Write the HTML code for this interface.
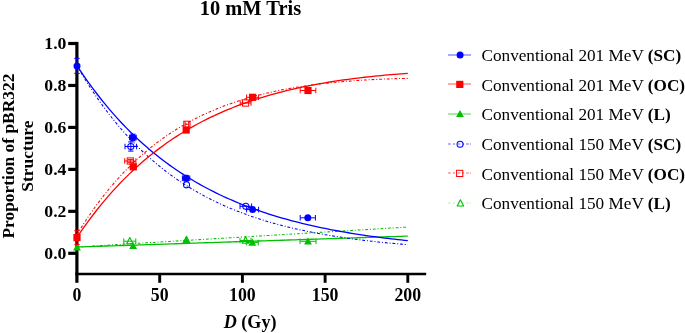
<!DOCTYPE html>
<html><head><meta charset="utf-8"><title>10 mM Tris</title>
<style>
html,body{margin:0;padding:0;background:#fff;}
svg{display:block;}
text{font-family:"Liberation Serif","Times New Roman",serif;fill:#000;}
.b{font-weight:bold;}
</style></head><body>
<svg width="685" height="333" viewBox="0 0 685 333">
<rect width="685" height="333" fill="#fff"/>

<text class="b" x="250.4" y="15.1" font-size="20.45" text-anchor="middle">10 mM Tris</text>
<text class="b" font-size="17.4" text-anchor="middle" transform="translate(14.2,156.1) rotate(-90)">Proportion of pBR322</text>
<text class="b" font-size="17.4" text-anchor="middle" transform="translate(32.6,156.1) rotate(-90)">Structure</text>
<text class="b" font-size="18.1" text-anchor="middle" x="250.1" y="327.5"><tspan font-style="italic">D</tspan> (Gy)</text>
<g stroke="#000" fill="none">
<path stroke-width="3.2" d="M76.9 41.9V282.8"/>
<path stroke-width="2.65" d="M75.3 274H426.2"/>
<path stroke-width="3.2" d="M68.2 253.30H77"/>
<path stroke-width="3.2" d="M68.2 211.34H77"/>
<path stroke-width="3.2" d="M68.2 169.38H77"/>
<path stroke-width="3.2" d="M68.2 127.42H77"/>
<path stroke-width="3.2" d="M68.2 85.46H77"/>
<path stroke-width="3.2" d="M68.2 43.50H77"/>
<path stroke-width="2.9" d="M159.70 274V282.8"/>
<path stroke-width="2.9" d="M242.40 274V282.8"/>
<path stroke-width="2.9" d="M325.10 274V282.8"/>
<path stroke-width="2.9" d="M407.80 274V282.8"/>
</g>
<text class="b" font-size="17.7" text-anchor="end" x="66.4" y="259.2">0.0</text>
<text class="b" font-size="17.7" text-anchor="end" x="66.4" y="217.2">0.2</text>
<text class="b" font-size="17.7" text-anchor="end" x="66.4" y="175.3">0.4</text>
<text class="b" font-size="17.7" text-anchor="end" x="66.4" y="133.3">0.6</text>
<text class="b" font-size="17.7" text-anchor="end" x="66.4" y="91.4">0.8</text>
<text class="b" font-size="17.7" text-anchor="end" x="66.4" y="49.4">1.0</text>
<text class="b" font-size="17.8" text-anchor="middle" x="77.0" y="300.8">0</text>
<text class="b" font-size="17.8" text-anchor="middle" x="159.7" y="300.8">50</text>
<text class="b" font-size="17.8" text-anchor="middle" x="242.4" y="300.8">100</text>
<text class="b" font-size="17.8" text-anchor="middle" x="325.1" y="300.8">150</text>
<text class="b" font-size="17.8" text-anchor="middle" x="407.8" y="300.8">200</text>
<polyline fill="none" stroke="#00c000" stroke-width="1.3" points="77.00,247.01 80.31,246.90 83.62,246.79 86.92,246.68 90.23,246.57 93.54,246.46 96.85,246.35 100.16,246.24 103.46,246.13 106.77,246.02 110.08,245.92 113.39,245.81 116.70,245.70 120.00,245.59 123.31,245.48 126.62,245.37 129.93,245.26 133.24,245.15 136.54,245.04 139.85,244.93 143.16,244.82 146.47,244.71 149.78,244.61 153.08,244.50 156.39,244.39 159.70,244.28 163.01,244.17 166.32,244.06 169.62,243.95 172.93,243.84 176.24,243.73 179.55,243.62 182.86,243.51 186.16,243.41 189.47,243.30 192.78,243.19 196.09,243.08 199.40,242.97 202.70,242.86 206.01,242.75 209.32,242.64 212.63,242.53 215.94,242.42 219.24,242.31 222.55,242.21 225.86,242.10 229.17,241.99 232.48,241.88 235.78,241.77 239.09,241.66 242.40,241.55 245.71,241.44 249.02,241.33 252.32,241.22 255.63,241.11 258.94,241.01 262.25,240.90 265.56,240.79 268.86,240.68 272.17,240.57 275.48,240.46 278.79,240.35 282.10,240.24 285.40,240.13 288.71,240.02 292.02,239.91 295.33,239.81 298.64,239.70 301.94,239.59 305.25,239.48 308.56,239.37 311.87,239.26 315.18,239.15 318.48,239.04 321.79,238.93 325.10,238.82 328.41,238.71 331.72,238.61 335.02,238.50 338.33,238.39 341.64,238.28 344.95,238.17 348.26,238.06 351.56,237.95 354.87,237.84 358.18,237.73 361.49,237.62 364.80,237.51 368.10,237.41 371.41,237.30 374.72,237.19 378.03,237.08 381.34,236.97 384.64,236.86 387.95,236.75 391.26,236.64 394.57,236.53 397.88,236.42 401.18,236.31 404.49,236.21 407.80,236.10"/>
<polyline fill="none" stroke="#00c000" stroke-width="1.05" stroke-dasharray="2.8 1.9 1 1.9" points="77.00,247.01 80.31,246.81 83.62,246.61 86.92,246.41 90.23,246.21 93.54,246.01 96.85,245.81 100.16,245.61 103.46,245.41 106.77,245.21 110.08,245.01 113.39,244.81 116.70,244.61 120.00,244.41 123.31,244.22 126.62,244.02 129.93,243.82 133.24,243.62 136.54,243.42 139.85,243.22 143.16,243.02 146.47,242.82 149.78,242.62 153.08,242.42 156.39,242.22 159.70,242.02 163.01,241.82 166.32,241.62 169.62,241.43 172.93,241.23 176.24,241.03 179.55,240.83 182.86,240.63 186.16,240.43 189.47,240.23 192.78,240.03 196.09,239.83 199.40,239.63 202.70,239.43 206.01,239.23 209.32,239.03 212.63,238.83 215.94,238.63 219.24,238.44 222.55,238.24 225.86,238.04 229.17,237.84 232.48,237.64 235.78,237.44 239.09,237.24 242.40,237.04 245.71,236.84 249.02,236.64 252.32,236.44 255.63,236.24 258.94,236.04 262.25,235.84 265.56,235.65 268.86,235.45 272.17,235.25 275.48,235.05 278.79,234.85 282.10,234.65 285.40,234.45 288.71,234.25 292.02,234.05 295.33,233.85 298.64,233.65 301.94,233.45 305.25,233.25 308.56,233.05 311.87,232.85 315.18,232.66 318.48,232.46 321.79,232.26 325.10,232.06 328.41,231.86 331.72,231.66 335.02,231.46 338.33,231.26 341.64,231.06 344.95,230.86 348.26,230.66 351.56,230.46 354.87,230.26 358.18,230.06 361.49,229.87 364.80,229.67 368.10,229.47 371.41,229.27 374.72,229.07 378.03,228.87 381.34,228.67 384.64,228.47 387.95,228.27 391.26,228.07 394.57,227.87 397.88,227.67 401.18,227.47 404.49,227.27 407.80,227.08"/>
<polyline fill="none" stroke="#0000ff" stroke-width="1.3" points="77.00,65.74 80.31,70.73 83.62,75.58 86.92,80.31 90.23,84.91 93.54,89.39 96.85,93.75 100.16,98.00 103.46,102.13 106.77,106.15 110.08,110.06 113.39,113.87 116.70,117.58 120.00,121.19 123.31,124.71 126.62,128.13 129.93,131.46 133.24,134.70 136.54,137.85 139.85,140.92 143.16,143.91 146.47,146.82 149.78,149.65 153.08,152.41 156.39,155.09 159.70,157.71 163.01,160.25 166.32,162.72 169.62,165.13 172.93,167.48 176.24,169.76 179.55,171.98 182.86,174.15 186.16,176.25 189.47,178.30 192.78,180.30 196.09,182.24 199.40,184.13 202.70,185.97 206.01,187.76 209.32,189.50 212.63,191.20 215.94,192.85 219.24,194.46 222.55,196.02 225.86,197.55 229.17,199.03 232.48,200.47 235.78,201.88 239.09,203.25 242.40,204.58 245.71,205.88 249.02,207.14 252.32,208.36 255.63,209.56 258.94,210.72 262.25,211.86 265.56,212.96 268.86,214.03 272.17,215.08 275.48,216.09 278.79,217.08 282.10,218.05 285.40,218.98 288.71,219.90 292.02,220.78 295.33,221.65 298.64,222.49 301.94,223.31 305.25,224.11 308.56,224.89 311.87,225.64 315.18,226.38 318.48,227.09 321.79,227.79 325.10,228.47 328.41,229.13 331.72,229.77 335.02,230.40 338.33,231.01 341.64,231.60 344.95,232.18 348.26,232.74 351.56,233.29 354.87,233.82 358.18,234.34 361.49,234.84 364.80,235.33 368.10,235.81 371.41,236.28 374.72,236.73 378.03,237.17 381.34,237.60 384.64,238.02 387.95,238.42 391.26,238.82 394.57,239.20 397.88,239.58 401.18,239.94 404.49,240.30 407.80,240.64"/>
<polyline fill="none" stroke="#0000ff" stroke-width="1.05" stroke-dasharray="2.8 1.9 1 1.9" points="77.00,65.74 80.31,71.43 83.62,76.94 86.92,82.29 90.23,87.48 93.54,92.51 96.85,97.39 100.16,102.11 103.46,106.70 106.77,111.15 110.08,115.46 113.39,119.64 116.70,123.69 120.00,127.62 123.31,131.44 126.62,135.13 129.93,138.72 133.24,142.19 136.54,145.56 139.85,148.83 143.16,152.00 146.47,155.07 149.78,158.05 153.08,160.94 156.39,163.74 159.70,166.46 163.01,169.09 166.32,171.64 169.62,174.12 172.93,176.52 176.24,178.85 179.55,181.11 182.86,183.30 186.16,185.42 189.47,187.48 192.78,189.48 196.09,191.41 199.40,193.29 202.70,195.11 206.01,196.88 209.32,198.59 212.63,200.25 215.94,201.86 219.24,203.42 222.55,204.93 225.86,206.40 229.17,207.82 232.48,209.20 235.78,210.54 239.09,211.83 242.40,213.09 245.71,214.31 249.02,215.49 252.32,216.64 255.63,217.75 258.94,218.83 262.25,219.87 265.56,220.89 268.86,221.87 272.17,222.83 275.48,223.75 278.79,224.65 282.10,225.51 285.40,226.36 288.71,227.17 292.02,227.97 295.33,228.74 298.64,229.48 301.94,230.20 305.25,230.90 308.56,231.58 311.87,232.24 315.18,232.88 318.48,233.50 321.79,234.10 325.10,234.68 328.41,235.25 331.72,235.79 335.02,236.33 338.33,236.84 341.64,237.34 344.95,237.82 348.26,238.29 351.56,238.75 354.87,239.19 358.18,239.62 361.49,240.03 364.80,240.44 368.10,240.83 371.41,241.20 374.72,241.57 378.03,241.93 381.34,242.27 384.64,242.61 387.95,242.93 391.26,243.24 394.57,243.55 397.88,243.85 401.18,244.13 404.49,244.41 407.80,244.68"/>
<polyline fill="none" stroke="#ff0000" stroke-width="1.3" points="77.00,237.36 80.31,232.48 83.62,227.73 86.92,223.11 90.23,218.62 93.54,214.25 96.85,210.00 100.16,205.86 103.46,201.84 106.77,197.93 110.08,194.12 113.39,190.42 116.70,186.82 120.00,183.32 123.31,179.92 126.62,176.60 129.93,173.38 133.24,170.25 136.54,167.21 139.85,164.24 143.16,161.36 146.47,158.56 149.78,155.84 153.08,153.19 156.39,150.62 159.70,148.11 163.01,145.68 166.32,143.32 169.62,141.02 172.93,138.78 176.24,136.61 179.55,134.49 182.86,132.44 186.16,130.44 189.47,128.50 192.78,126.62 196.09,124.78 199.40,123.00 202.70,121.27 206.01,119.59 209.32,117.95 212.63,116.37 215.94,114.82 219.24,113.33 222.55,111.87 225.86,110.45 229.17,109.08 232.48,107.75 235.78,106.45 239.09,105.19 242.40,103.97 245.71,102.78 249.02,101.63 252.32,100.51 255.63,99.43 258.94,98.37 262.25,97.35 265.56,96.35 268.86,95.39 272.17,94.45 275.48,93.55 278.79,92.67 282.10,91.81 285.40,90.98 288.71,90.18 292.02,89.40 295.33,88.64 298.64,87.91 301.94,87.20 305.25,86.51 308.56,85.85 311.87,85.20 315.18,84.57 318.48,83.96 321.79,83.38 325.10,82.81 328.41,82.26 331.72,81.72 335.02,81.21 338.33,80.71 341.64,80.22 344.95,79.75 348.26,79.30 351.56,78.86 354.87,78.44 358.18,78.03 361.49,77.64 364.80,77.25 368.10,76.88 371.41,76.53 374.72,76.18 378.03,75.85 381.34,75.53 384.64,75.22 387.95,74.93 391.26,74.64 394.57,74.36 397.88,74.10 401.18,73.84 404.49,73.60 407.80,73.36"/>
<polyline fill="none" stroke="#ff0000" stroke-width="1.05" stroke-dasharray="2.8 1.9 1 1.9" points="77.00,234.42 80.31,229.05 83.62,223.86 86.92,218.82 90.23,213.95 93.54,209.22 96.85,204.65 100.16,200.22 103.46,195.92 106.77,191.77 110.08,187.74 113.39,183.84 116.70,180.07 120.00,176.41 123.31,172.88 126.62,169.45 129.93,166.13 133.24,162.92 136.54,159.82 139.85,156.81 143.16,153.90 146.47,151.08 149.78,148.35 153.08,145.71 156.39,143.16 159.70,140.69 163.01,138.30 166.32,135.99 169.62,133.75 172.93,131.59 176.24,129.50 179.55,127.47 182.86,125.52 186.16,123.63 189.47,121.80 192.78,120.03 196.09,118.33 199.40,116.68 202.70,115.08 206.01,113.54 209.32,112.06 212.63,110.62 215.94,109.23 219.24,107.89 222.55,106.60 225.86,105.35 229.17,104.15 232.48,102.98 235.78,101.86 239.09,100.78 242.40,99.74 245.71,98.73 249.02,97.76 252.32,96.83 255.63,95.93 258.94,95.06 262.25,94.23 265.56,93.42 268.86,92.65 272.17,91.91 275.48,91.19 278.79,90.50 282.10,89.84 285.40,89.21 288.71,88.60 292.02,88.01 295.33,87.45 298.64,86.91 301.94,86.39 305.25,85.90 308.56,85.42 311.87,84.97 315.18,84.54 318.48,84.12 321.79,83.72 325.10,83.35 328.41,82.98 331.72,82.64 335.02,82.31 338.33,82.00 341.64,81.70 344.95,81.42 348.26,81.15 351.56,80.90 354.87,80.66 358.18,80.43 361.49,80.22 364.80,80.02 368.10,79.83 371.41,79.65 374.72,79.49 378.03,79.33 381.34,79.19 384.64,79.05 387.95,78.93 391.26,78.82 394.57,78.71 397.88,78.62 401.18,78.53 404.49,78.45 407.80,78.38"/>
<path d="M123.8 241.2H135.8M123.8 238.4V244.0M135.8 238.4V244.0" stroke="#00c000" stroke-width="1" fill="none"/>
<path d="M129.8 237.5L133.0 243.8L126.6 243.8Z" fill="none" stroke="#00c000" stroke-width="1.1" stroke-linejoin="round"/>
<path d="M186.5 236.2L189.7 242.5L183.3 242.5Z" fill="none" stroke="#00c000" stroke-width="1.1" stroke-linejoin="round"/>
<path d="M240.0 240.5H251.0M240.0 237.7V243.3M251.0 237.7V243.3" stroke="#00c000" stroke-width="1" fill="none"/>
<path d="M245.5 236.8L248.7 243.2L242.3 243.2Z" fill="none" stroke="#00c000" stroke-width="1.1" stroke-linejoin="round"/>
<path d="M77.0 243.5L80.9 250.6L73.1 250.6Z" fill="#00c000"/>
<path d="M133.1 242.0L137.0 249.1L129.2 249.1Z" fill="#00c000"/>
<path d="M186.3 236.8L190.2 243.9L182.4 243.9Z" fill="#00c000"/>
<path d="M246.3 242.6H258.3M246.3 239.8V245.4M258.3 239.8V245.4" stroke="#00c000" stroke-width="1" fill="none"/>
<path d="M252.3 238.6L256.2 245.7L248.4 245.7Z" fill="#00c000"/>
<path d="M300.0 241.3H316.0M300.0 238.5V244.1M316.0 238.5V244.1" stroke="#00c000" stroke-width="1" fill="none"/>
<path d="M308.0 237.3L311.9 244.4L304.1 244.4Z" fill="#00c000"/>
<path d="M125.0 146.5H136.6M125.0 143.7V149.3M136.6 143.7V149.3" stroke="#0000ff" stroke-width="1" fill="none"/>
<path d="M130.8 141.9V151.1M128.2 141.9H133.5M128.2 151.1H133.5" stroke="#0000ff" stroke-width="1" fill="none"/>
<circle cx="130.8" cy="146.5" r="3.05" fill="none" stroke="#0000ff" stroke-width="1.05"/>
<circle cx="186.5" cy="184.8" r="3.05" fill="none" stroke="#0000ff" stroke-width="1.05"/>
<path d="M240.0 206.3H251.6M240.0 203.5V209.1M251.6 203.5V209.1" stroke="#0000ff" stroke-width="1" fill="none"/>
<circle cx="245.8" cy="206.3" r="3.05" fill="none" stroke="#0000ff" stroke-width="1.05"/>
<path d="M77.0 58.4V73.4M74.3 58.4H79.7M74.3 73.4H79.7" stroke="#0000ff" stroke-width="1" fill="none"/>
<circle cx="77.0" cy="65.9" r="3.5" fill="#0000ff"/>
<path d="M129.6 137.5H136.2M129.6 134.7V140.3M136.2 134.7V140.3" stroke="#0000ff" stroke-width="1" fill="none"/>
<path d="M132.9 134.2V140.8M130.2 134.2H135.6M130.2 140.8H135.6" stroke="#0000ff" stroke-width="1" fill="none"/>
<circle cx="132.9" cy="137.5" r="3.5" fill="#0000ff"/>
<path d="M182.4 178.2H189.8M182.4 175.4V181.0M189.8 175.4V181.0" stroke="#0000ff" stroke-width="1" fill="none"/>
<path d="M186.1 175.4V181.0M183.4 175.4H188.8M183.4 181.0H188.8" stroke="#0000ff" stroke-width="1" fill="none"/>
<circle cx="186.1" cy="178.2" r="3.5" fill="#0000ff"/>
<path d="M246.6 209.6H258.6M246.6 206.8V212.4M258.6 206.8V212.4" stroke="#0000ff" stroke-width="1" fill="none"/>
<circle cx="252.6" cy="209.6" r="3.5" fill="#0000ff"/>
<path d="M300.2 217.8H315.4M300.2 215.0V220.6M315.4 215.0V220.6" stroke="#0000ff" stroke-width="1" fill="none"/>
<circle cx="307.8" cy="217.8" r="3.5" fill="#0000ff"/>
<path d="M124.7 161.0H135.9M124.7 158.2V163.8M135.9 158.2V163.8" stroke="#ff0000" stroke-width="1" fill="none"/>
<path d="M130.3 159.6V162.4M127.7 159.6H133.0M127.7 162.4H133.0" stroke="#ff0000" stroke-width="1" fill="none"/>
<rect x="127.2" y="157.9" width="6.2" height="6.2" fill="none" stroke="#ff0000" stroke-width="1.0"/>
<path d="M185.1 124.3H188.7M185.1 121.5V127.1M188.7 121.5V127.1" stroke="#ff0000" stroke-width="1" fill="none"/>
<rect x="183.8" y="121.2" width="6.2" height="6.2" fill="none" stroke="#ff0000" stroke-width="1.0"/>
<path d="M240.2 103.0H251.0M240.2 100.2V105.8M251.0 100.2V105.8" stroke="#ff0000" stroke-width="1" fill="none"/>
<rect x="242.5" y="99.9" width="6.2" height="6.2" fill="none" stroke="#ff0000" stroke-width="1.0"/>
<path d="M77.0 230.6V244.6M74.3 230.6H79.7M74.3 244.6H79.7" stroke="#ff0000" stroke-width="1" fill="none"/>
<rect x="73.4" y="234.0" width="7.2" height="7.2" fill="#ff0000"/>
<rect x="129.7" y="163.2" width="7.2" height="7.2" fill="#ff0000"/>
<rect x="182.6" y="126.4" width="7.2" height="7.2" fill="#ff0000"/>
<path d="M246.6 97.3H258.6M246.6 94.5V100.1M258.6 94.5V100.1" stroke="#ff0000" stroke-width="1" fill="none"/>
<rect x="249.0" y="93.7" width="7.2" height="7.2" fill="#ff0000"/>
<path d="M300.2 90.5H315.8M300.2 87.7V93.3M315.8 87.7V93.3" stroke="#ff0000" stroke-width="1" fill="none"/>
<rect x="304.4" y="86.9" width="7.2" height="7.2" fill="#ff0000"/>
<path d="M448 55.0H471" stroke="#0000ff" stroke-width="0.8" stroke-opacity="0.85" fill="none"/>
<circle cx="460.1" cy="54.9" r="3.5" fill="#0000ff"/>
<text font-size="17.2" x="481.5" y="61.2">Conventional 201 MeV <tspan class="b">(SC)</tspan></text>
<path d="M448 84.0H471" stroke="#ff0000" stroke-width="0.8" stroke-opacity="0.85" fill="none"/>
<rect x="456.2" y="80.8" width="7.2" height="7.2" fill="#ff0000"/>
<text font-size="17.2" x="481.5" y="90.8">Conventional 201 MeV <tspan class="b">(OC)</tspan></text>
<path d="M448 114.0H471" stroke="#00c000" stroke-width="0.8" stroke-opacity="0.85" fill="none"/>
<path d="M460.0 110.0L463.9 117.1L456.1 117.1Z" fill="#00c000"/>
<text font-size="17.2" x="481.5" y="120.3">Conventional 201 MeV <tspan class="b">(L)</tspan></text>
<path d="M448.1 144H450.7M453 144H455.1M457.8 144H460.2M462 144H464.1M466.2 144H468.8M470.1 144H471" stroke="#0000ff" stroke-width="1.1" stroke-opacity="0.65" fill="none"/>
<circle cx="460.1" cy="144.2" r="3.05" fill="none" stroke="#0000ff" stroke-width="1.05"/>
<text font-size="17.2" x="481.5" y="149.9">Conventional 150 MeV <tspan class="b">(SC)</tspan></text>
<path d="M448.1 173H450.7M453 173H455.1M457.8 173H460.2M462 173H464.1M466.2 173H468.8M470.1 173H471" stroke="#ff0000" stroke-width="1.1" stroke-opacity="0.65" fill="none"/>
<rect x="456.6" y="170.3" width="6.2" height="6.2" fill="none" stroke="#ff0000" stroke-width="1.0"/>
<text font-size="17.2" x="481.5" y="179.5">Conventional 150 MeV <tspan class="b">(OC)</tspan></text>
<path d="M448.1 203H450.7M453 203H455.1M457.8 203H460.2M462 203H464.1M466.2 203H468.8M470.1 203H471" stroke="#00c000" stroke-width="1.1" stroke-opacity="0.3" fill="none"/>
<path d="M460.4 199.7L463.6 206.0L457.2 206.0Z" fill="none" stroke="#00c000" stroke-width="1.1" stroke-linejoin="round"/>
<text font-size="17.2" x="481.5" y="209.1">Conventional 150 MeV <tspan class="b">(L)</tspan></text>
</svg></body></html>
